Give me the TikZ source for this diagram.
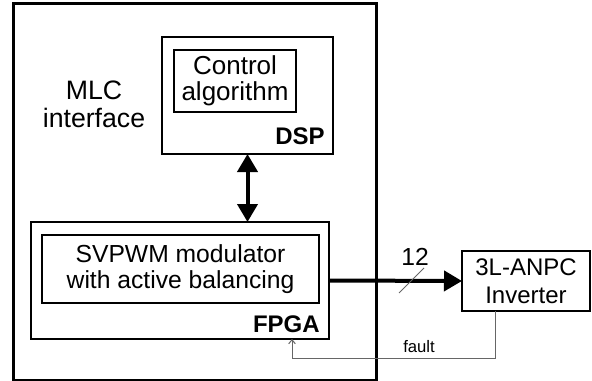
\documentclass[tikz,border=0pt]{standalone}
\usepackage{fontspec}
\setmainfont{Liberation Sans}
\usetikzlibrary{arrows.meta,calc}
\tikzset{
  box/.style={draw, rectangle, inner sep=0pt, outer sep=0pt, line width=1.5pt, align=center},
  outerbox/.style={draw, rectangle, inner sep=0pt, outer sep=0pt, line width=2.25pt},
  maintext/.style={font=\fontsize{18.5}{19.5}\selectfont, align=center},
  tag/.style={font=\fontsize{18}{20}\selectfont\bfseries, inner sep=0pt},
  bigarrow/.style={line width=3pt, -{Triangle[length=13.5pt,width=15pt]}},
  bigdarrow/.style={line width=3pt, {Triangle[length=13.5pt,width=15pt]}-{Triangle[length=13.5pt,width=15pt]}},
  faultline/.style={line width=0.75pt, draw=black!60, -{Straight Barb[length=3pt,width=5pt]}},
  smalltext/.style={font=\fontsize{12.5}{14}\selectfont, inner sep=0pt}
}
\begin{document}
\begin{tikzpicture}[x=0.75pt, y=-0.75pt]
\useasboundingbox (0,0) rectangle (592,381);
% outer MLC interface box
\node[outerbox, minimum width=272.25pt, minimum height=282pt] (mlc) at (194.5,192) {};
\node[maintext, font=\fontsize{20}{21}\selectfont] (mlclabel) at (94,104) {MLC\\interface};
% DSP
\node[box, minimum width=128.25pt, minimum height=87.75pt] (dsp) at (247.5,95.5) {};
\node[box, maintext, font=\fontsize{19.5}{19.5}\selectfont, minimum width=91.5pt, minimum height=46.5pt] (ctrl) at (235,81) {Control\\algorithm};
\node[tag, anchor=base east] (dsplabel) at (325,145) {DSP};
% FPGA
\node[box, minimum width=223.5pt, minimum height=87.75pt] (fpga) at (180,280.5) {};
\node[box, maintext, minimum width=207.75pt, minimum height=51pt] (svpwm) at (180.5,269) {SVPWM modulator\\with active balancing};
\node[tag, anchor=base east] (fpgalabel) at (320,332) {FPGA};
% Inverter
\node[box, maintext, font=\fontsize{18}{21}\selectfont, minimum width=96pt, minimum height=45pt] (inv) at (526,281) {3L-ANPC\\Inverter};
% connectors
\draw[bigdarrow] (dsp.south) -- (dsp.south |- fpga.north);
\draw[bigarrow] (fpga.east) -- (inv.west);
\node[maintext, anchor=base, inner sep=0pt] (twelve) at (415,265) {12};
\draw[line width=0.75pt, draw=black!60] (399,293) -- (424,268);
\coordinate (invS) at ($(inv.south west)!0.258!(inv.south east)$);
\coordinate (fb) at (292,358);
\draw[faultline] (invS) |- (fb) -- (fb |- fpga.south);
\node[smalltext, anchor=base] (faultlabel) at (419,352) {fault};
\end{tikzpicture}
\end{document}
